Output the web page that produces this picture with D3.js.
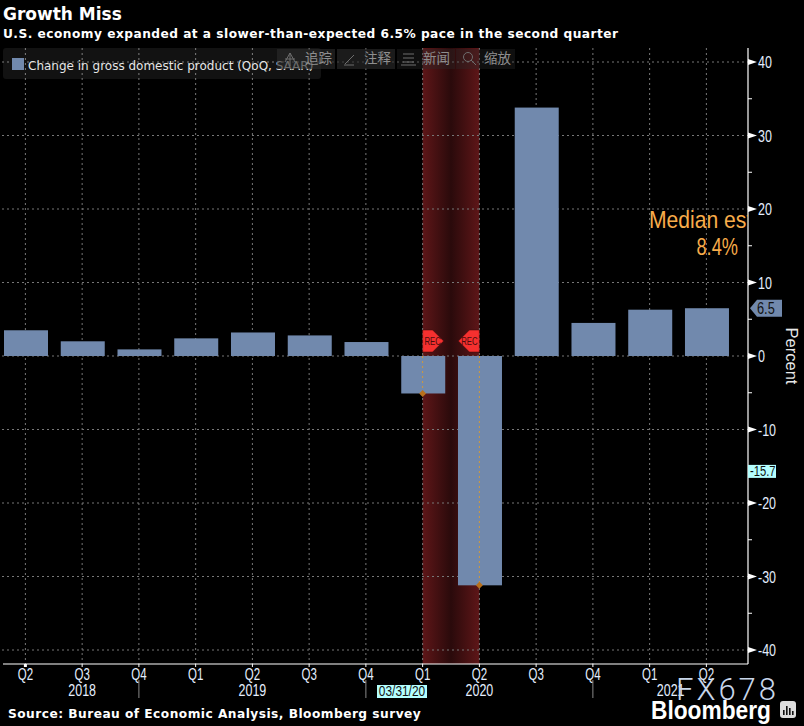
<!DOCTYPE html>
<html>
<head>
<meta charset="utf-8">
<script src="https://cdn.jsdelivr.net/npm/d3@7"></script>
<style>
  html, body { margin: 0; padding: 0; background: #000; }
  svg { display: block; }
  .narrow { font-family: "Liberation Sans", sans-serif; }
  .wide { font-family: "DejaVu Sans", sans-serif; }
</style>
</head>
<body>
<script>
// values
const quarters = ["Q2 18","Q3 18","Q4 18","Q1 19","Q2 19","Q3 19","Q4 19","Q1 20","Q2 20","Q3 20","Q4 20","Q1 21","Q2 21"];
const quarterLabels = ["Q2","Q3","Q4","Q1","Q2","Q3","Q4","Q1","Q2","Q3","Q4","Q1","Q2"];
const gdp = [3.5, 2.0, 0.9, 2.4, 3.2, 2.8, 1.9, -5.1, -31.2, 33.8, 4.5, 6.3, 6.5];
const majorTicks = [40, 30, 20, 10, 0, -10, -20, -30, -40];
const minorTicks = [35, 25, 15, 5, -5, -15, -25, -35];
const yearLabels = [["Q3 18", "2018"], ["Q2 19", "2019"], ["Q2 20", "2020"], ["Q1 21", "2021"]];
const yearSeparators = ["Q4 18", "Q4 19", "Q4 20"];
const recessionQuarters = ["Q1 20", "Q2 20"];
const recFlags = [["Q1 20", 1], ["Q2 20", -1]];
const toolbar = [["追踪", 277, 58, 305], ["注释", 337, 58, 364], ["新闻", 397, 58, 423], ["缩放", 456, 59, 484]];

const width = 804, height = 726;
const svg = d3.select("body").append("svg").attr("width", width).attr("height", height);

const x = d3.scaleBand().domain(quarters).range([-1.675, 734.65]).paddingInner(0.2247).paddingOuter(0.1);
const y = d3.scaleLinear().domain([-40, 40]).range([650, 62]);
const cx = d => x(d) + x.bandwidth() / 2;
const gx = d => cx(d) - 0.6;
const plotRight = 748, plotBottom = 664, plotTop = 48;

// squeezed text, the reference type is narrower than anything installed
function narrow(sel, tx, ty, sx) {
  return sel.attr("class", "narrow")
    .attr("transform", (d, i) => {
      const px = typeof tx === "function" ? tx(d, i) : tx;
      const py = typeof ty === "function" ? ty(d, i) : ty;
      return `translate(${px},${py}) scale(${sx},1)`;
    });
}

const defs = svg.append("defs");
const grad = defs.append("linearGradient").attr("id", "recGrad");
grad.append("stop").attr("offset", "0%").attr("stop-color", "#5e1618");
grad.append("stop").attr("offset", "50%").attr("stop-color", "#2a0a0b");
grad.append("stop").attr("offset", "100%").attr("stop-color", "#5e1618");
defs.append("clipPath").attr("id", "plotClip").append("rect").attr("x", 0).attr("y", 0).attr("width", plotRight).attr("height", plotBottom);

// recession band
svg.append("rect")
  .attr("x", gx(recessionQuarters[0])).attr("y", plotTop)
  .attr("width", gx(recessionQuarters[1]) - gx(recessionQuarters[0]))
  .attr("height", plotBottom - plotTop)
  .attr("fill", "url(#recGrad)");

// grid
const gridDash = "2,3";
svg.append("g").selectAll("line").data(majorTicks).join("line")
  .attr("x1", 2).attr("x2", plotRight)
  .attr("y1", d => y(d)).attr("y2", d => y(d))
  .attr("stroke", "#777").attr("stroke-dasharray", gridDash);
svg.append("g").selectAll("line").data(quarters).join("line")
  .attr("x1", gx).attr("x2", gx)
  .attr("y1", plotTop).attr("y2", plotBottom)
  .attr("stroke", "#777").attr("stroke-dasharray", gridDash);

// bars
svg.append("g").selectAll("rect").data(gdp).join("rect")
  .attr("x", (d, i) => x(quarters[i]))
  .attr("width", x.bandwidth())
  .attr("y", d => y(Math.max(d, 0)))
  .attr("height", d => Math.abs(y(d) - y(0)))
  .attr("fill", "#7189ad");

// orange markers at the recession quarters
recessionQuarters.forEach(q => {
  const v = gdp[quarters.indexOf(q)];
  svg.append("line")
    .attr("x1", gx(q)).attr("x2", gx(q))
    .attr("y1", y(0)).attr("y2", y(v))
    .attr("stroke", "#d19a3c").attr("stroke-dasharray", "2,3");
  svg.append("path")
    .attr("d", d3.symbol(d3.symbolSquare, 24))
    .attr("transform", `translate(${gx(q)},${y(v)}) rotate(45)`)
    .attr("fill", "#b8701c");
});

// REC flags
recFlags.forEach(([q, dir]) => {
  const fx = gx(q), fy = y(0) - 15;
  const g = svg.append("g").attr("transform", `translate(${fx},${fy})`);
  g.append("path")
    .attr("d", d3.line()([[0, -11], [dir * 10, -11], [dir * 21, 0], [dir * 10, 11], [0, 11]]) + "Z")
    .attr("fill", "#f5302f").attr("stroke", "#3a0808").attr("stroke-width", 0.5);
  narrow(g.append("text"), dir * 10, 3.5, 0.78).attr("text-anchor", "middle")
    .attr("font-size", 10).attr("fill", "#4a0c0c").text("REC");
});

// right axis
svg.append("line").attr("x1", plotRight).attr("x2", plotRight).attr("y1", plotTop).attr("y2", plotBottom).attr("stroke", "#fff").attr("stroke-width", 1.2);
svg.append("g").selectAll("path").data(majorTicks).join("path")
  .attr("d", d => `M${plotRight},${y(d) - 3}L${plotRight + 9},${y(d)}L${plotRight},${y(d) + 3}Z`)
  .attr("fill", "#fff");
svg.append("g").selectAll("line").data(minorTicks).join("line")
  .attr("x1", plotRight).attr("x2", plotRight + 4)
  .attr("y1", d => y(d)).attr("y2", d => y(d))
  .attr("stroke", "#fff");
narrow(svg.append("g").selectAll("text").data(majorTicks).join("text"), plotRight + 10, d => y(d) + 6, 0.78)
  .attr("font-size", 16).attr("fill", "#e4eeff").text(d => d);

svg.append("text").attr("class", "narrow")
  .attr("transform", `translate(786,${y(0)}) rotate(90)`)
  .attr("text-anchor", "middle").attr("font-size", 16.5).attr("fill", "#e8e8e8").text("Percent");

// last value tags
const last = gdp[gdp.length - 1];
svg.append("path")
  .attr("d", d3.line()([[750, y(last)], [757, y(last) - 8.5], [782, y(last) - 8.5], [782, y(last) + 8.5], [757, y(last) + 8.5]]) + "Z")
  .attr("fill", "#7189ad");
narrow(svg.append("text"), 757, y(last) + 6, 0.8).attr("font-size", 16).attr("fill", "#111").text(last);
svg.append("rect").attr("x", 748).attr("y", y(-15.7) - 6.5).attr("width", 28).attr("height", 13).attr("fill", "#b4ffff");
narrow(svg.append("text"), 750, y(-15.7) + 5, 0.8).attr("font-size", 14).attr("fill", "#111").text("-15.7");

// bottom axis
svg.append("line").attr("x1", 3).attr("x2", plotRight).attr("y1", plotBottom).attr("y2", plotBottom).attr("stroke", "#fff").attr("stroke-width", 1.2);
svg.append("g").selectAll("line").data(quarters).join("line")
  .attr("x1", gx).attr("x2", gx)
  .attr("y1", plotBottom).attr("y2", plotBottom + 3)
  .attr("stroke", "#fff").attr("stroke-width", (d, i) => i === 0 ? 3 : 1);
narrow(svg.append("g").selectAll("text").data(quarters).join("text"), gx, 680, 0.72)
  .attr("text-anchor", "middle")
  .attr("font-size", 16).attr("fill", "#e4eeff").text((d, i) => quarterLabels[i]);
// the 2021 label sits between its two quarters
narrow(svg.append("g").selectAll("text").data(yearLabels).join("text"), d => gx(d[0]) + (d[1] === "2021" ? 21 : 0), 696, 0.78)
  .attr("text-anchor", "middle")
  .attr("font-size", 16).attr("fill", "#e4eeff").text(d => d[1]);
svg.append("g").selectAll("line").data(yearSeparators).join("line")
  .attr("x1", d => gx(d)).attr("x2", d => gx(d))
  .attr("y1", 680).attr("y2", 698).attr("stroke", "#888");
svg.append("rect").attr("x", 377).attr("y", 685).attr("width", 50).attr("height", 13).attr("fill", "#b4ffff");
narrow(svg.append("text"), 402, 696, 0.85).attr("text-anchor", "middle")
  .attr("font-size", 14).attr("fill", "#111").text("03/31/20");

// clipped median annotation
const note = svg.append("g").attr("clip-path", "url(#plotClip)").attr("fill", "#f8ac4a").attr("font-size", 24);
narrow(note.append("text"), 649, 228, 0.88).text("Median est.");
narrow(note.append("text"), 738, 255, 0.76).attr("text-anchor", "end").text("8.4%");

// legend box
svg.append("rect").attr("x", 3).attr("y", 48).attr("width", 318).attr("height", 31).attr("rx", 3).attr("fill", "#fff").attr("fill-opacity", 0.07);
svg.append("rect").attr("x", 12).attr("y", 58).attr("width", 12).attr("height", 12).attr("fill", "#7189ad");
svg.append("text").attr("class", "wide").attr("x", 28).attr("y", 70)
  .attr("font-size", 12).attr("fill", "#e6e6e6").text("Change in gross domestic product (QoQ, SAAR)");

// toolbar overlay
svg.append("g").selectAll("rect").data(toolbar).join("rect")
  .attr("x", d => d[1]).attr("y", 49).attr("width", d => d[2]).attr("height", 20)
  .attr("fill", "#2a2a2a").attr("fill-opacity", (d, i) => i < 2 ? 0.65 : 0.35);
svg.append("g").selectAll("text").data(toolbar).join("text")
  .attr("x", d => d[3]).attr("y", 63)
  .attr("font-family", "Noto Sans CJK SC").attr("font-size", 13.5).attr("fill", "#8e8e8e").text(d => d[0]);

// toolbar icons
const iconColor = "#6e6e6e";
const icons = svg.append("g").attr("fill", "none").attr("stroke", iconColor);
icons.append("path").attr("d", "M285,62L290,53L295,62M290,53V66M285,59H295");
icons.append("path").attr("d", "M345,64L354,55M344,65H354");
icons.append("path").attr("d", "M403,54H414M403,58H414M403,62H414M401,65H416");
icons.append("circle").attr("cx", 468).attr("cy", 57).attr("r", 4.5);
icons.append("path").attr("d", "M471,60L476,65");

// titles
svg.append("text").attr("class", "wide").attr("x", 3).attr("y", 20)
  .attr("font-size", 17).attr("font-weight", "bold").attr("fill", "#fff").text("Growth Miss");
svg.append("text").attr("class", "wide").attr("x", 3).attr("y", 38)
  .attr("font-size", 12.2).attr("font-weight", "bold").attr("letter-spacing", 0.475).attr("fill", "#fff")
  .text("U.S. economy expanded at a slower-than-expected 6.5% pace in the second quarter");
svg.append("text").attr("class", "wide").attr("x", 8).attr("y", 718)
  .attr("font-size", 12.2).attr("font-weight", "bold").attr("letter-spacing", 0.475).attr("fill", "#fff")
  .text("Source: Bureau of Economic Analysis, Bloomberg survey");

// watermark and logo
svg.append("text").attr("x", 676).attr("y", 700)
  .attr("font-family", "Roboto").attr("font-weight", 300).attr("font-size", 31).attr("letter-spacing", 3)
  .attr("fill", "#c8d6ea").text("FX678");
narrow(svg.append("text"), 771, 719, 0.91).attr("text-anchor", "end")
  .attr("font-size", 25).attr("font-weight", "bold").attr("fill", "#fff").text("Bloomberg");
svg.append("rect").attr("x", 780).attr("y", 701).attr("width", 16).attr("height", 17).attr("rx", 3).attr("fill", "#ddd");
svg.append("g").selectAll("rect").data([5, 9, 7, 4]).join("rect")
  .attr("x", (d, i) => 783 + i * 3).attr("y", d => 715 - d)
  .attr("width", 1.6).attr("height", d => d).attr("fill", "#111");
</script>
</body>
</html>
